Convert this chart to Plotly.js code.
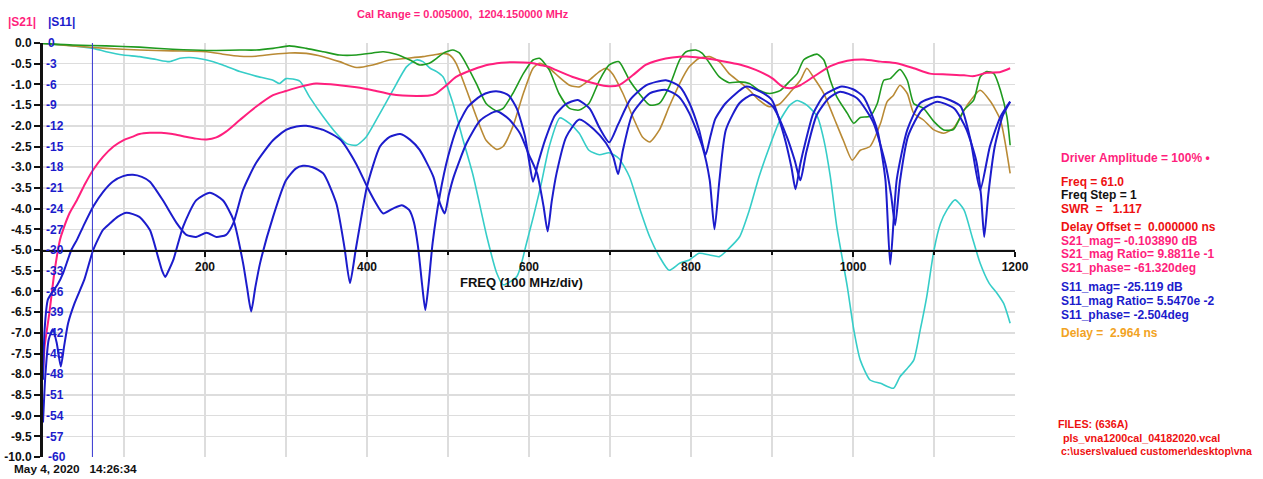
<!DOCTYPE html>
<html>
<head>
<meta charset="utf-8">
<script src="https://cdn.plot.ly/plotly-3.0.1.min.js"></script>
<style>
  html, body { margin: 0; padding: 0; background: #ffffff; }
  #chart { width: 1263px; height: 479px; }
</style>
</head>
<body>
<div id="chart"></div>
<script>
// ---- Sweep data (frequency in MHz) ----
// |S21| magnitude, dB (left scale 0 .. -10)
const pinkFreq = [0,2,8,14,21,25,33,42,52,62,74,87,99,111,119,132,146,160,173,189,202,214,226,243,263,284,300,317,337,366,387,407,428,444,461,477,485,498,510,531,551,572,593,605,613,625,633,654,674,695,711,728,744,761,777,798,818,839,860,880,901,912,922,935,951,972,993,1013,1034,1054,1075,1095,1116,1137,1149,1165,1182,1194];
const pinkS21 = [-7.97,-7.33,-6.5,-5.55,-4.75,-4.5,-4.1,-3.79,-3.4,-3.06,-2.75,-2.5,-2.35,-2.26,-2.2,-2.17,-2.17,-2.2,-2.25,-2.31,-2.33,-2.28,-2.14,-1.86,-1.54,-1.26,-1.16,-1.06,-0.98,-1.02,-1.07,-1.14,-1.23,-1.27,-1.28,-1.27,-1.22,-1.02,-0.82,-0.64,-0.52,-0.47,-0.47,-0.49,-0.53,-0.58,-0.65,-0.82,-0.94,-1.04,-1.02,-0.78,-0.53,-0.41,-0.35,-0.33,-0.37,-0.44,-0.52,-0.65,-0.86,-1.04,-1.09,-1.02,-0.82,-0.56,-0.43,-0.4,-0.45,-0.49,-0.61,-0.74,-0.76,-0.78,-0.8,-0.72,-0.7,-0.61];

// Green trace (left scale)
const greenFreq = [0,37,78,119,160,202,243,263,284,304,325,346,366,387,407,420,436,453,465,477,486,494,506,514,522,535,547,560,568,580,593,605,613,625,637,650,662,674,687,699,711,724,736,749,761,773,786,794,806,814,823,835,847,860,872,884,897,910,923,931,939,947,956,964,972,980,993,1001,1009,1021,1030,1038,1046,1058,1067,1075,1087,1100,1112,1124,1137,1149,1157,1165,1174,1182,1190,1194];
const greenVal = [-0.01,-0.05,-0.07,-0.1,-0.15,-0.18,-0.17,-0.17,-0.13,-0.07,-0.13,-0.21,-0.29,-0.29,-0.24,-0.21,-0.27,-0.41,-0.53,-0.49,-0.37,-0.25,-0.17,-0.24,-0.49,-0.98,-1.46,-1.64,-1.58,-1.22,-0.74,-0.41,-0.37,-0.65,-1.22,-1.58,-1.62,-1.46,-0.9,-0.53,-0.45,-0.9,-1.22,-1.5,-1.46,-1.06,-0.41,-0.21,-0.17,-0.25,-0.49,-0.82,-0.96,-0.94,-0.98,-1.14,-1.22,-1.15,-0.9,-0.74,-0.41,-0.32,-0.27,-0.41,-0.9,-1.3,-1.7,-1.94,-1.8,-1.77,-1.46,-0.9,-0.86,-0.64,-0.9,-1.46,-1.58,-1.9,-2.1,-2.09,-1.62,-1.38,-0.82,-0.69,-0.74,-1.14,-1.78,-2.47];

// Brown trace (left scale)
const brownFreq = [0,37,78,119,160,202,222,243,263,284,304,325,346,366,387,407,428,449,469,482,494,502,510,523,535,547,560,568,580,593,605,613,625,637,650,662,674,687,695,703,716,728,740,749,761,773,786,798,810,823,835,847,860,872,884,897,909,922,935,943,951,964,976,988,999,1009,1021,1034,1042,1050,1058,1067,1075,1087,1100,1112,1124,1141,1157,1170,1182,1194];
const brownVal = [-0.01,-0.07,-0.13,-0.17,-0.19,-0.21,-0.27,-0.32,-0.32,-0.27,-0.24,-0.25,-0.33,-0.45,-0.59,-0.53,-0.41,-0.37,-0.33,-0.29,-0.25,-0.29,-0.49,-1.14,-1.78,-2.35,-2.57,-2.5,-2.02,-1.22,-0.61,-0.49,-0.61,-0.82,-1.02,-1.06,-0.9,-0.69,-0.61,-0.74,-1.22,-1.78,-2.27,-2.39,-2.1,-1.54,-0.98,-0.57,-0.37,-0.33,-0.45,-0.74,-0.94,-1.14,-1.38,-1.54,-1.48,-1.2,-0.9,-0.61,-0.82,-1.22,-1.78,-2.35,-2.83,-2.59,-2.5,-1.94,-1.42,-1.26,-1.02,-1.22,-1.7,-1.86,-2.1,-2.18,-2.06,-1.5,-1.14,-1.42,-1.86,-3.15];

// Cyan trace (left scale)
const cyanFreq = [0,37,62,78,99,119,140,156,169,181,202,222,243,263,284,292,300,317,329,346,362,375,387,399,416,432,449,461,469,478,486,494,506,518,531,548,560,568,585,597,614,625,638,650,662,674,687,699,711,724,736,749,761,773,786,798,810,823,835,847,860,872,884,897,909,922,931,943,956,964,972,980,993,1001,1009,1021,1034,1050,1058,1067,1075,1083,1091,1100,1108,1116,1126,1137,1147,1157,1168,1178,1186,1194];
const cyanVal = [-0.01,-0.07,-0.13,-0.21,-0.29,-0.33,-0.4,-0.45,-0.37,-0.35,-0.41,-0.53,-0.69,-0.8,-0.9,-0.98,-0.86,-0.92,-1.3,-1.78,-2.18,-2.43,-2.47,-2.27,-1.7,-1.14,-0.57,-0.41,-0.45,-0.61,-0.69,-0.82,-1.45,-2.3,-3.2,-4.68,-5.55,-5.84,-5.64,-4.83,-3.5,-2.5,-1.81,-1.94,-2.18,-2.59,-2.7,-2.65,-2.79,-3.23,-3.96,-4.68,-5.16,-5.49,-5.32,-5.24,-5.08,-5.12,-5.16,-4.96,-4.68,-4.04,-3.23,-2.5,-1.9,-1.5,-1.39,-1.5,-1.78,-2.34,-3.23,-4.44,-5.89,-6.93,-7.66,-8.14,-8.22,-8.34,-8.06,-7.86,-7.66,-6.93,-6.13,-5.0,-4.36,-4.03,-3.79,-4.03,-4.68,-5.32,-5.8,-6.05,-6.29,-6.77];

// |S11| magnitude, dB (blue scale 0 .. -60), first sweep
const s11aFreq = [0,2,6,12,18,25,35,42,50,62,74,86,99,111,122,132,148,165,177,189,202,214,226,235,247,263,284,300,313,325,346,367,387,400,410,420,432,443,452,458,463,468,472,476,481,490,500,512,525,540,552,564,575,585,595,600,605,611,620,632,645,660,675,687,699,710,725,745,769,786,798,810,818,824,830,843,868,885,900,915,924,929,935,941,951,965,986,1000,1013,1030,1040,1046,1054,1067,1083,1104,1120,1133,1145,1157,1169,1182,1194];
const s11aDb = [-48.8,-41.5,-37.2,-36.0,-35.0,-33.3,-30.0,-28.5,-26.5,-23.7,-21.6,-20.1,-19.3,-19.1,-19.4,-20.1,-22.8,-26.1,-27.8,-28.1,-27.5,-28.1,-27.8,-26.1,-21.3,-17.4,-14.1,-12.6,-12.1,-12.0,-12.6,-14.0,-17.6,-20.8,-23.0,-24.7,-24.0,-23.5,-24.2,-26.0,-29.5,-35.0,-38.7,-35.0,-29.0,-22.0,-16.5,-12.0,-9.2,-7.7,-7.1,-7.05,-7.6,-9.5,-13.5,-17.0,-20.1,-17.5,-14.0,-10.5,-8.9,-8.25,-9.5,-12.3,-14.4,-11.8,-8.2,-6.1,-5.4,-6.3,-8.7,-12.6,-16.2,-13.5,-11.0,-8.7,-6.3,-7.0,-8.3,-13.5,-18.0,-21.2,-17.5,-14.5,-10.2,-7.5,-6.3,-6.7,-7.8,-12.6,-19.8,-32.1,-19.8,-12.6,-8.7,-7.8,-8.3,-9.2,-14.0,-21.3,-15.0,-10.7,-8.5];

// |S11| magnitude, dB (blue scale), second sweep
const s11bFreq = [0,3,7,12,17,22,26,31,39,51,62,74,83,92,103,119,132,142,147,151,155,161,173,189,206,222,235,247,252,257,262,268,284,300,312,321,333,346,362,372,379,386,391,400,416,428,441,453,465,482,490,496,501,507,523,540,560,575,589,600,610,618,623,628,634,646,662,680,695,704,710,716,728,749,769,785,798,814,823,829,835,843,860,876,901,918,928,935,942,955,970,984,1005,1025,1040,1047,1052,1058,1068,1085,1104,1125,1140,1152,1158,1162,1167,1175,1185,1194];
const s11bDb = [-55,-48,-43,-41.5,-43.5,-46.9,-44.0,-40.6,-37.7,-34.3,-30.0,-27.1,-26.1,-25.2,-24.6,-25.2,-27.1,-31.0,-33.0,-33.9,-33.0,-31.4,-26.6,-22.8,-21.7,-22.8,-25.6,-31.9,-35.5,-38.9,-35.5,-31.9,-25.2,-19.9,-18.2,-17.8,-18.0,-18.9,-23.2,-29.5,-34.8,-30.0,-26.6,-20.8,-15.0,-13.6,-13.2,-14.0,-15.5,-19.4,-23.2,-24.7,-22.0,-19.4,-14.5,-11.2,-9.9,-11.0,-13.1,-16.2,-18.9,-23.7,-27.3,-23.0,-18.9,-13.6,-11.1,-12.5,-14.5,-16.5,-19.0,-15.5,-10.2,-7.3,-6.8,-7.8,-10.2,-15.0,-19.8,-27.0,-20.0,-12.6,-8.7,-7.5,-9.2,-13.5,-17.0,-19.9,-16.0,-10.5,-8.0,-7.05,-8.0,-11.5,-17.5,-22.0,-26.4,-20.0,-13.5,-9.7,-8.5,-9.5,-12.5,-17.0,-22.0,-28.1,-22.0,-15.0,-10.5,-8.5];

// Axis tick labels
const s21TickLabels = ['0.0','-0.5','-1.0','-1.5','-2.0','-2.5','-3.0','-3.5','-4.0','-4.5','-5.0','-5.5','-6.0','-6.5','-7.0','-7.5','-8.0','-8.5','-9.0','-9.5','-10.0'];
const s11TickLabels = ['0','-3','-6','-9','-12','-15','-18','-21','-24','-27','-30','-33','-36','-39','-42','-45','-48','-51','-54','-57','-60'];
const freqTickLabels = ['0','200','400','600','800','1000','1200'];

// Marker readout
const markerFreq = 61.0;
const readout = {
  freqStep: 1,
  swr: '1.117',
  delayOffset: '0.000000',
  s21Mag: '-0.103890',
  s21Ratio: '9.8811e -1',
  s21Phase: '-61.320',
  s11Mag: '-25.119',
  s11Ratio: '5.5470e -2',
  s11Phase: '-2.504',
  delay: '2.964'
};

// ---- Page geometry ----
const W = 1263, H = 479;
const M = { l: 43, r: 248, t: 43, b: 22 };
const PW = W - M.l - M.r, PH = H - M.t - M.b;
const xp = x => (x - M.l) / PW;        // pixel column -> paper x
const yp = y => (H - M.b - y) / PH;    // pixel row -> paper y

const FONT = "'Liberation Sans', Arial, sans-serif";
const C = {
  pink: '#ff1f7d', green: '#1f9a1f', brown: '#b98a35', cyan: '#36cdc8',
  blue: '#1c1ccc', red: '#ee1111', orange: '#f2a323', grid: '#dddddd'
};

const line = (color, width) => ({ color: color, width: width, shape: 'spline', smoothing: 0.6 });

const traces = [
  { x: cyanFreq, y: cyanVal, type: 'scatter', mode: 'lines', line: line(C.cyan, 1.6), xaxis: 'x', yaxis: 'y' },
  { x: brownFreq, y: brownVal, type: 'scatter', mode: 'lines', line: line(C.brown, 1.6), xaxis: 'x', yaxis: 'y' },
  { x: greenFreq, y: greenVal, type: 'scatter', mode: 'lines', line: line(C.green, 1.6), xaxis: 'x', yaxis: 'y' },
  { x: pinkFreq, y: pinkS21, type: 'scatter', mode: 'lines', line: line(C.pink, 2), xaxis: 'x', yaxis: 'y' },
  { x: s11aFreq, y: s11aDb, type: 'scatter', mode: 'lines', line: line(C.blue, 2), xaxis: 'x', yaxis: 'y2' },
  { x: s11bFreq, y: s11bDb, type: 'scatter', mode: 'lines', line: line(C.blue, 2), xaxis: 'x', yaxis: 'y2' }
];

const bold = (size, color) => ({ family: FONT, size: size, color: color, weight: 'bold' });

function note(text, x, y, size, color, anchor) {
  return {
    text: text, xref: 'paper', yref: 'paper', x: xp(x), y: yp(y),
    xanchor: anchor || 'left', yanchor: 'middle', showarrow: false,
    font: bold(size, color)
  };
}

const nb = s => s.replace(/ /g, '\u00a0');

// S11 scale end labels sit on the plot edges, where inside tick labels get dropped
const s11EdgeLabels = [s11TickLabels[0], s11TickLabels[s11TickLabels.length - 1]].map(t => ({
  text: t, xref: 'paper', yref: 'y2', x: xp(46), y: Number(t),
  xanchor: 'left', yanchor: 'middle', showarrow: false, font: bold(12, C.blue)
}));

const annotations = [
  note('Cal Range = 0.005000,  1204.150000 MHz'.replace(/  /g, ' \u00a0'), 463, 14, 11, C.pink, 'center'),
  note('|S21|', 22, 22, 12, C.pink, 'center'),
  note('|S11|', 61, 22, 12, C.blue, 'center'),
  note(nb('May 4, 2020   14:26:34'), 12, 469, 11.8, '#111111'),
  { text: 'FREQ (100 MHz/div)', xref: 'x', yref: 'y', x: 591, y: -5.79, xanchor: 'center', yanchor: 'middle', showarrow: false, font: bold(13, '#111111') },
  note(nb('Driver Amplitude = 100% \u2022'), 1059, 158, 12, C.pink),
  note(nb('Freq = ' + markerFreq.toFixed(1)), 1059, 181.5, 12, C.red),
  note(nb('Freq Step = ' + readout.freqStep), 1059, 195, 12, '#111111'),
  note(nb('SWR  =   ' + readout.swr), 1059, 209, 12, C.red),
  note(nb('Delay Offset =  ' + readout.delayOffset + ' ns'), 1059, 227, 12, C.red),
  note(nb('S21_mag= ' + readout.s21Mag + ' dB'), 1059, 240.5, 12, C.pink),
  note(nb('S21_mag Ratio= ' + readout.s21Ratio), 1059, 254, 12, C.pink),
  note(nb('S21_phase= ' + readout.s21Phase + 'deg'), 1059, 268, 12, C.pink),
  note(nb('S11_mag= ' + readout.s11Mag + ' dB'), 1059, 287, 12, C.blue),
  note(nb('S11_mag Ratio= ' + readout.s11Ratio), 1059, 300.5, 12, C.blue),
  note(nb('S11_phase= ' + readout.s11Phase + 'deg'), 1059, 314.5, 12, C.blue),
  note(nb('Delay =  ' + readout.delay + ' ns'), 1059, 332.5, 12, C.orange),
  note(nb('FILES: (636A)'), 1056, 424, 10.8, C.red),
  note('pls_vna1200cal_04182020.vcal', 1061, 437.5, 10.8, C.red),
  note(nb('c:\\users\\valued customer\\desktop\\vna'), 1059, 451, 10.5, C.red)
].concat(s11EdgeLabels);

const layout = {
  width: W, height: H,
  margin: M,
  paper_bgcolor: '#ffffff', plot_bgcolor: '#ffffff',
  showlegend: false,
  font: { family: FONT },
  xaxis: {
    range: [0, 1200], anchor: 'free', position: 0.5,
    tickvals: freqTickLabels.map(Number), ticktext: freqTickLabels,
    ticks: 'outside', ticklen: 5, tickwidth: 2, tickcolor: '#111111',
    minor: { dtick: 100, tick0: 0, ticks: 'outside', ticklen: 3, tickwidth: 1.5, tickcolor: '#111111', showgrid: true, gridcolor: C.grid, gridwidth: 1.5 },
    showline: true, linecolor: '#111111', linewidth: 1.5,
    showgrid: true, gridcolor: C.grid, gridwidth: 1.5, zeroline: false,
    tickfont: bold(12, '#111111')
  },
  yaxis: {
    range: [-10, 0], tickvals: s21TickLabels.map(Number), ticktext: s21TickLabels,
    ticks: 'outside', ticklen: 6, tickwidth: 2, tickcolor: '#111111',
    showline: true, linecolor: '#111111', linewidth: 3,
    showgrid: true, gridcolor: C.grid, gridwidth: 1.5, zeroline: false,
    tickfont: bold(12, '#111111')
  },
  yaxis2: {
    range: [-60, 0], overlaying: 'y', side: 'left', anchor: 'x',
    tickvals: s11TickLabels.map(Number), ticktext: s11TickLabels,
    ticklabelposition: 'inside', ticks: '', showline: false, showgrid: false, zeroline: false,
    tickfont: bold(12, C.blue)
  },
  yaxis3: {
    range: [-10, 0], overlaying: 'y', side: 'right', anchor: 'x',
    dtick: 0.5, tick0: 0, ticks: 'outside', ticklen: 9, tickwidth: 2, tickcolor: '#111111',
    showline: true, linecolor: '#111111', linewidth: 2.5,
    showticklabels: false, showgrid: false, zeroline: false
  },
  yaxis4: {
    range: [-10, 0], overlaying: 'y', side: 'right', anchor: 'x',
    dtick: 2.5, tick0: 0, ticks: 'inside', ticklen: 14, tickwidth: 2, tickcolor: '#111111',
    minor: { dtick: 0.5, tick0: 0, ticks: 'inside', ticklen: 8, tickwidth: 2, tickcolor: '#111111' },
    showline: false, showticklabels: false, showgrid: false, zeroline: false
  },
  shapes: [
    { type: 'line', xref: 'x', yref: 'paper', x0: markerFreq, x1: markerFreq, y0: 0, y1: 1,
      line: { color: '#3434d0', width: 1 } }
  ],
  annotations: annotations
};

Plotly.newPlot('chart', traces, layout, { staticPlot: true, displayModeBar: false });
</script>
</body>
</html>
